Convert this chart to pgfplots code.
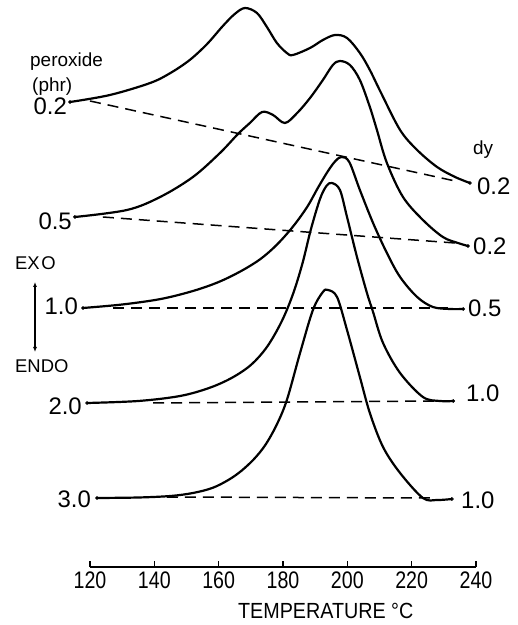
\documentclass[border=0pt]{standalone}
\usepackage{fontspec}
\setmainfont{Liberation Sans}
\newfontfamily\narrowsans[FakeStretch=0.82]{Liberation Sans}
\newfontfamily\titlesans[FakeStretch=0.9]{Liberation Sans}
\usepackage{pgfplots}
\pgfplotsset{compat=1.18}
\usetikzlibrary{arrows.meta}

% font sizes for the labels
\newcommand{\numfont}{\fontsize{24}{24}\selectfont}
\newcommand{\tickfont}{\narrowsans\fontsize{24}{24}\selectfont}
\newcommand{\wordfont}{\fontsize{19}{20}\selectfont}
\newcommand{\capfont}{\fontsize{18.5}{19}\selectfont}

\begin{document}
\begin{tikzpicture}
\useasboundingbox (-90bp,-58bp) rectangle (428bp,567bp);
\begin{axis}[
  at={(0,0)}, anchor=south west,
  scale only axis, width=386bp, height=567bp,
  xmin=120, xmax=240, ymin=0, ymax=567,
  axis x line*=bottom, axis y line=none,
  xtick={120,140,...,240}, ytick=\empty,
  xtick align=inside, major tick length=6bp,
  tick style={black, line width=1.1bp},
  axis line style={black, line width=1.4bp},
  /pgf/number format/assume math mode=true,
  xticklabel style={font=\tickfont, yshift=-1bp},
  clip=false,
  curve/.style={black, line width=2.2bp, smooth, tension=0.55, line join=round},
  base/.style={black, line width=1.5bp, dash pattern=on 11bp off 7bp},
  ends/.style={black, only marks, mark=*, mark size=1.6bp},
]

% DSC traces, one per peroxide level (phr)
% 0.2 phr, dy = 0.2
\addplot[curve] coordinates {
 (113.8,465) (126.2,472) (138.7,484) (145.0,494) (151.0,507) (156.4,523)
 (161.3,541) (165.0,553) (168.2,559) (171.9,554) (175.0,540) (178.1,524)
 (181.2,514) (183.1,512) (188.4,519) (192.4,527) (196.2,532) (199.9,529)
 (203.9,514) (207.0,497) (210.5,474) (216.4,437) (221.7,417) (227.9,400)
 (233.5,390) (238.1,384)};
% 0.5 phr, dy = 0.2
\addplot[curve] coordinates {
 (115.3,350) (131.5,357) (141.8,370) (152.0,390) (160.4,414) (166.0,433)
 (169.7,444) (173.5,455) (176.9,452) (180.6,444) (184.4,454) (188.4,469)
 (192.4,487) (195.5,502) (197.7,506) (200.8,502) (203.9,487) (207.0,460)
 (209.2,437) (212.3,404) (217.3,370) (223.5,347) (229.7,330) (234.4,324)
 (237.5,321)};
% 1.0 phr, dy = 0.5
\addplot[curve] coordinates {
 (117.8,259) (130.0,262.5) (142.0,268) (152.0,276) (160.0,285) (167.0,296)
 (173.0,308) (178.0,322) (183.0,340) (187.5,360) (191.0,380) (194.0,396)
 (196.3,406) (198.2,410) (200.6,405) (203.9,377) (208.0,344) (212.3,314)
 (216.4,290) (221.7,270) (226.6,260) (231.9,258) (236.0,258)};
% 2.0 phr, dy = 1.0
\addplot[curve] coordinates {
 (119.1,164) (135.0,166) (148.0,171) (157.0,179) (164.0,189) (170.0,202)
 (175.0,220) (179.5,245) (183.0,272) (186.0,303) (188.7,338) (191.5,368)
 (193.5,381) (195.2,384) (197.7,377) (199.9,350) (203.0,310) (206.1,274)
 (208.0,255) (211.1,224) (216.4,194) (223.5,170) (228.8,166) (232.9,166)};
% 3.0 phr, dy = 1.0
\addplot[curve] coordinates {
 (122.2,69) (135.0,69.5) (145.0,71) (152.0,74) (158.0,79) (163.0,87)
 (167.0,96) (171.0,108) (174.5,122) (178.0,142) (181.2,167) (185.3,214)
 (189.3,257) (192.4,275) (194.0,277) (196.8,270) (199.9,237) (203.9,190)
 (207.0,154) (211.1,120) (216.4,94) (223.5,69) (227.9,67) (232.5,68)};

% end points of the traces
\addplot[ends] coordinates {
 (113.8,465) (238.1,384) (115.3,350) (237.5,321) (117.8,259) (236.0,258)
 (119.1,164) (232.9,166) (122.2,69) (232.5,68)};

% baselines
\addplot[base] coordinates {(120.0,466) (233.5,386)};
\addplot[base] coordinates {(124.0,350) (233.5,324)};
\addplot[base] coordinates {(127.2,259) (233.5,259)};
\addplot[base] coordinates {(139.6,164) (228.8,166)};
\addplot[base] coordinates {(143.9,70) (225.7,69)};

% exo / endo direction
\addplot[black, line width=1.5bp, {Latex[length=5bp,width=4bp]}-{Latex[length=5bp,width=4bp]}]
  coordinates {(102.9,215) (102.9,285)};

% peroxide levels
\node[anchor=base west, inner sep=0pt, font=\wordfont] at (axis cs:101.35,500) {peroxide};
\node[anchor=base west, inner sep=0pt, font=\wordfont] at (axis cs:101.97,475) {(phr)};
\node[anchor=base east, inner sep=0pt, font=\numfont] at (axis cs:112.85,452) {0.2};
\node[anchor=base east, inner sep=0pt, font=\numfont] at (axis cs:114.40,337) {0.5};
\node[anchor=base east, inner sep=0pt, font=\numfont] at (axis cs:116.27,252) {1.0};
\node[anchor=base east, inner sep=0pt, font=\numfont] at (axis cs:117.51,152) {2.0};
\node[anchor=base east, inner sep=0pt, font=\numfont] at (axis cs:120.31,60) {3.0};

% scale factors
\node[anchor=base west, inner sep=0pt, font=\wordfont] at (axis cs:239.07,412) {dy};
\node[anchor=base west, inner sep=0pt, font=\numfont] at (axis cs:240.31,372) {0.2};
\node[anchor=base west, inner sep=0pt, font=\numfont] at (axis cs:239.07,312) {0.2};
\node[anchor=base west, inner sep=0pt, font=\numfont] at (axis cs:237.51,250) {0.5};
\node[anchor=base west, inner sep=0pt, font=\numfont] at (axis cs:236.89,165) {1.0};
\node[anchor=base west, inner sep=0pt, font=\numfont] at (axis cs:235.34,59) {1.0};

\node[anchor=base west, inner sep=0pt, font=\capfont] at (axis cs:96.68,297) {EX\kern1.5bp O};
\node[anchor=base west, inner sep=0pt, font=\capfont] at (axis cs:96.68,194) {ENDO};

% axis title
\node[anchor=base west, inner sep=0pt, font=\titlesans\fontsize{22}{22}\selectfont]
  at (axis cs:166.0,-51) {TEMPERATURE °C};
\end{axis}
\end{tikzpicture}
\end{document}
